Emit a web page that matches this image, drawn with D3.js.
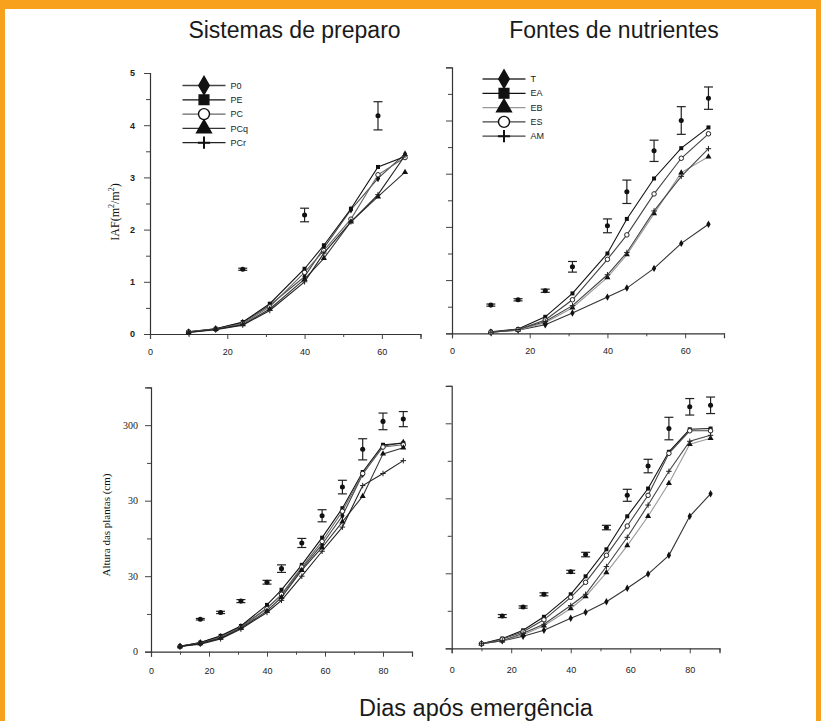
<!DOCTYPE html>
<html><head><meta charset="utf-8">
<script src="https://cdn.jsdelivr.net/npm/d3@7"></script>
<style>html,body{margin:0;padding:0;background:#fff;}svg{display:block;}</style>
</head><body>
<script>
// ---------- DATA ----------
const daysIAF = [10,17,24,31,40,45,52,59,66];
const daysAlt = [10,17,24,31,40,45,52,59,66,73,80,87];

// IAF - Sistemas de preparo
const iafP0  = [0.04,0.10,0.22,0.55,1.10,1.65,2.38,2.98,3.45];
const iafPE  = [0.04,0.10,0.23,0.58,1.25,1.70,2.40,3.20,3.40];
const iafPC  = [0.04,0.09,0.20,0.52,1.18,1.60,2.20,3.05,3.38];
const iafPCq = [0.03,0.09,0.18,0.48,1.05,1.45,2.15,2.63,3.10];
const iafPCr = [0.03,0.08,0.17,0.45,1.00,1.55,2.15,2.67,3.42];
const iafPrepBarDays = [24,40,59];
const iafPrepBarVals = [1.24,2.28,4.18];
const iafPrepBarErr  = [0.02,0.13,0.27];

// IAF - Fontes de nutrientes
const iafT  = [0.02,0.06,0.16,0.38,0.68,0.85,1.22,1.69,2.05];
const iafEA = [0.03,0.08,0.31,0.75,1.50,2.15,2.91,3.48,3.87];
const iafEB = [0.02,0.06,0.20,0.48,1.05,1.48,2.25,3.02,3.32];
const iafES = [0.02,0.07,0.25,0.63,1.39,1.85,2.62,3.29,3.75];
const iafAM = [0.02,0.07,0.22,0.52,1.10,1.52,2.30,2.95,3.47];
const iafFontBarDays = [10,17,24,31,40,45,52,59,66];
const iafFontBarVals = [0.53,0.63,0.80,1.25,2.02,2.66,3.43,4.00,4.42];
const iafFontBarErr  = [0.02,0.02,0.03,0.10,0.13,0.22,0.20,0.26,0.21];

// Altura - Sistemas de preparo
const altP0  = [7,12,20,33,58,75,110,142,180,235,272,277];
const altPE  = [7,12,21,34,62,82,115,151,190,238,274,276];
const altPC  = [7,11,19,32,57,76,112,146,186,236,271,274];
const altPCq = [7,11,18,31,54,72,108,138,172,206,262,270];
const altPCr = [7,10,17,30,52,68,100,133,165,220,236,253];
const altPrepBarDays = [17,24,31,40,45,52,59,66,73,80,87];
const altPrepBarVals = [43,52,67,92,110,144,180,218,268,305,308];
const altPrepBarErr  = [1,1.5,2,2.5,5,6,8,9,14,11,10];

// Altura - Fontes de nutrientes
const altT  = [6,10,16,24,40,48,62,80,99,124,176,206];
const altEA = [6,13,24,42,72,96,132,176,213,262,292,293];
const altEB = [6,10,18,30,53,69,101,137,176,220,272,280];
const altES = [6,12,22,38,68,88,124,163,204,260,290,290];
const altAM = [6,10,20,32,57,72,109,148,191,236,276,284];
const altFontBarDays = [17,24,31,40,45,52,59,66,73,80,87];
const altFontBarVals = [43,55,72,102,125,161,204,243,293,322,324];
const altFontBarErr  = [2,1.5,2,2,3,3,8,9,15,11,11];

// Labels
const prepNames = ["P0","PE","PC","PCq","PCr"];
const fontNames = ["T","EA","EB","ES","AM"];
const iafTicks = [0,1,2,3,4,5];
const iafTickLabels = ["0","1","2","3","4","5"];
const altTicks = [0,100,200,300];
const altTickLabels = ["0","30","30","300"];
const xTicksIAF = [0,20,40,60];
const xTicksAlt = [0,20,40,60,80];
const titles = ["Sistemas de preparo","Fontes de nutrientes"];
const xTitle = "Dias após emergência";
const yTitleAlt = "Altura das plantas (cm)";

// ---------- DRAW ----------
const W = 821, H = 721;
const svg = d3.select("body").append("svg").attr("width",W).attr("height",H);
svg.append("rect").attr("width",W).attr("height",H).attr("fill","#fff");
// orange frame
svg.append("rect").attr("x",0).attr("y",0).attr("width",W).attr("height",9).attr("fill","#f7a11c");
svg.append("rect").attr("x",0).attr("y",0).attr("width",5).attr("height",H).attr("fill","#f7a11c");
svg.append("rect").attr("x",W-5).attr("y",0).attr("width",5).attr("height",H).attr("fill","#f7a11c");

const plus = {draw(ctx,size){const r=Math.sqrt(size)/2;ctx.moveTo(-r,0);ctx.lineTo(r,0);ctx.moveTo(0,-r);ctx.lineTo(0,r);}};
const symTypes = [d3.symbolDiamond, d3.symbolSquare, d3.symbolCircle, d3.symbolTriangle, plus];
const prepFill = ["#111","#111","none","#111","none"];
const prepStroke = ["#444","#111","#666","#333","#222"];
const fontSym = [d3.symbolDiamond, d3.symbolSquare, d3.symbolTriangle, d3.symbolCircle, plus];
const fontFill = ["#111","#111","#111","none","none"];
const fontStroke = ["#333","#111","#999","#444","#444"];

function panel(cfg){
  const g = svg.append("g");
  const x = d3.scaleLinear().domain(cfg.xd).range(cfg.xr);
  const y = d3.scaleLinear().domain(cfg.yd).range(cfg.yr);
  const xa = d3.axisBottom(x).tickValues(cfg.xticks).tickSize(5).tickPadding(3).tickFormat(d=>String(d));
  const xm = d3.axisBottom(x).tickValues(cfg.xminor).tickSize(3).tickFormat("");
  const ya = d3.axisLeft(y).tickValues(cfg.yticks).tickSize(6).tickPadding(cfg.ypad).tickFormat((d,i)=>cfg.ylabels?cfg.ylabels[i]:"");
  const ym = d3.axisLeft(y).tickValues(cfg.yminor).tickSize(4).tickFormat("");
  const gx = g.append("g").attr("transform",`translate(0,${cfg.yr[0]})`).call(xa);
  g.append("g").attr("transform",`translate(0,${cfg.yr[0]})`).call(xm).select(".domain").remove();
  const gy = g.append("g").attr("transform",`translate(${cfg.xr[0]},0)`).call(ya);
  g.append("g").attr("transform",`translate(${cfg.xr[0]},0)`).call(ym).select(".domain").remove();
  g.selectAll(".domain").attr("stroke","#333").attr("stroke-width",1.2);
  g.selectAll(".tick line").attr("stroke","#444");
  gx.selectAll("text").attr("font-family","Liberation Sans, Arial, sans-serif").attr("font-size",cfg.xfs).attr("fill","#222").attr("dy",cfg.xdy);
  gy.selectAll("text").attr("font-family",cfg.yfont).attr("font-size",cfg.yfs).attr("fill","#222").attr("font-weight",cfg.yfw||"normal");
  const line = d3.line().x(d=>x(d[0])).y(d=>y(d[1]));
  cfg.series.forEach((s,i)=>{
    const pts = cfg.days.map((d,j)=>[d,s[j]]);
    g.append("path").datum(pts).attr("d",line).attr("fill","none").attr("stroke",cfg.stroke[i]).attr("stroke-width",1.1);
    g.selectAll(null).data(pts).enter().append("path")
      .attr("transform",d=>`translate(${x(d[0])},${y(d[1])})`)
      .attr("d",d3.symbol().type(cfg.sym[i]).size(cfg.sym[i]===plus?30:16))
      .attr("fill",cfg.fill[i]==="none"?"#fff":cfg.fill[i])
      .attr("stroke",cfg.fill[i]==="none"?"#222":"none").attr("stroke-width",1);
  });
  const bars = cfg.barDays.map((d,j)=>({d, v:cfg.barVals[j], e:cfg.barErr[j]}));
  const bg = g.selectAll(null).data(bars).enter().append("g");
  bg.append("line").attr("x1",d=>x(d.d)).attr("x2",d=>x(d.d)).attr("y1",d=>y(d.v-d.e)).attr("y2",d=>y(d.v+d.e)).attr("stroke","#222").attr("stroke-width",1.2);
  bg.append("line").attr("x1",d=>x(d.d)-4.5).attr("x2",d=>x(d.d)+4.5).attr("y1",d=>y(d.v-d.e)).attr("y2",d=>y(d.v-d.e)).attr("stroke","#222").attr("stroke-width",1.2);
  bg.append("line").attr("x1",d=>x(d.d)-4.5).attr("x2",d=>x(d.d)+4.5).attr("y1",d=>y(d.v+d.e)).attr("y2",d=>y(d.v+d.e)).attr("stroke","#222").attr("stroke-width",1.2);
  bg.append("path").attr("transform",d=>`translate(${x(d.d)},${y(d.v)})`).attr("d",d3.symbol().type(d3.symbolCircle).size(20)).attr("fill","#111");
  if(cfg.legend){
    const L = cfg.legend;
    L.names.forEach((n,i)=>{
      const yy = L.y + i*L.dy;
      g.append("line").attr("x1",L.x).attr("x2",L.x+43).attr("y1",yy).attr("y2",yy).attr("stroke",cfg.stroke[i]).attr("stroke-width",1.3);
      g.append("path").attr("transform",`translate(${L.x+21.5},${yy})`)
        .attr("d",d3.symbol().type(cfg.sym[i]).size(cfg.sym[i]===plus?150:95))
        .attr("fill",cfg.fill[i]==="none"?"#fff":cfg.fill[i])
        .attr("stroke","#111").attr("stroke-width",cfg.sym[i]===plus?2:1.4);
      g.append("text").attr("x",L.x+48).attr("y",yy).attr("dy","0.35em").attr("font-family","Liberation Sans, Arial, sans-serif").attr("font-size",9).attr("fill","#222").text(n);
    });
  }
  return {x,y,g};
}

panel({xd:[0,70], xr:[150,420.5], yd:[0,5], yr:[334,73],
  xticks:xTicksIAF, xminor:[10,30,50,70], yticks:iafTicks, yminor:[0.5,1.5,2.5,3.5,4.5], ylabels:iafTickLabels,
  xfs:9, xdy:"1.4em", yfs:9, ypad:9, yfont:"Liberation Sans, Arial, sans-serif", yfw:"bold",
  days:daysIAF, series:[iafP0,iafPE,iafPC,iafPCq,iafPCr], sym:symTypes, fill:prepFill, stroke:prepStroke,
  barDays:iafPrepBarDays, barVals:iafPrepBarVals, barErr:iafPrepBarErr,
  legend:{names:prepNames, x:182.5, y:85.5, dy:14.3}});

panel({xd:[0,70], xr:[452,724], yd:[0,5], yr:[333.3,67.3],
  xticks:xTicksIAF, xminor:[10,30,50,70], yticks:iafTicks, yminor:[0.5,1.5,2.5,3.5,4.5], ylabels:null,
  xfs:9, xdy:"1.4em", yfs:9, ypad:3, yfont:"Liberation Sans, Arial, sans-serif",
  days:daysIAF, series:[iafT,iafEA,iafEB,iafES,iafAM], sym:fontSym, fill:fontFill, stroke:fontStroke,
  barDays:iafFontBarDays, barVals:iafFontBarVals, barErr:iafFontBarErr,
  legend:{names:fontNames, x:482.5, y:79, dy:14.3}});

panel({xd:[0,90], xr:[151,412], yd:[0,350], yr:[651.7,387.4],
  xticks:xTicksAlt, xminor:[10,30,50,70,90], yticks:altTicks, yminor:[50,150,250,350], ylabels:altTickLabels,
  xfs:9, xdy:"1.6em", yfs:10, ypad:7, yfont:"Liberation Serif, Times New Roman, serif",
  days:daysAlt, series:[altP0,altPE,altPC,altPCq,altPCr], sym:symTypes, fill:prepFill, stroke:prepStroke,
  barDays:altPrepBarDays, barVals:altPrepBarVals, barErr:altPrepBarErr, legend:null});

panel({xd:[0,90], xr:[451.7,719.5], yd:[0,350], yr:[648.3,385.8],
  xticks:xTicksAlt, xminor:[10,30,50,70,90], yticks:altTicks, yminor:[50,150,250,350], ylabels:null,
  xfs:9, xdy:"1.9em", yfs:10, ypad:3, yfont:"Liberation Serif, Times New Roman, serif",
  days:daysAlt, series:[altT,altEA,altEB,altES,altAM], sym:fontSym, fill:fontFill, stroke:fontStroke,
  barDays:altFontBarDays, barVals:altFontBarVals, barErr:altFontBarErr, legend:null});

svg.append("text").attr("x",294.5).attr("y",38).attr("text-anchor","middle").attr("font-family","Liberation Sans, Arial, sans-serif").attr("font-size",23).attr("fill","#1a1a1a").text(titles[0]);
svg.append("text").attr("x",614).attr("y",38).attr("text-anchor","middle").attr("font-family","Liberation Sans, Arial, sans-serif").attr("font-size",23).attr("fill","#1a1a1a").text(titles[1]);
svg.append("text").attr("x",476).attr("y",716).attr("text-anchor","middle").attr("font-family","Liberation Sans, Arial, sans-serif").attr("font-size",23.5).attr("fill","#1a1a1a").text(xTitle);

const iafLab = svg.append("text").attr("transform","translate(119,212) rotate(-90)").attr("text-anchor","middle")
  .attr("font-family","Liberation Serif, Times New Roman, serif").attr("font-size",12).attr("fill","#111");
iafLab.append("tspan").text("IAF(m");
iafLab.append("tspan").attr("font-size",8).attr("dy",-5).text("2");
iafLab.append("tspan").attr("dy",5).text("/m");
iafLab.append("tspan").attr("font-size",8).attr("dy",-5).text("2");
iafLab.append("tspan").attr("dy",5).text(")");
svg.append("text").attr("transform","translate(110,525) rotate(-90)").attr("text-anchor","middle")
  .attr("font-family","Liberation Serif, Times New Roman, serif").attr("font-size",11).attr("fill","#111").text(yTitleAlt);
</script>
</body></html>
